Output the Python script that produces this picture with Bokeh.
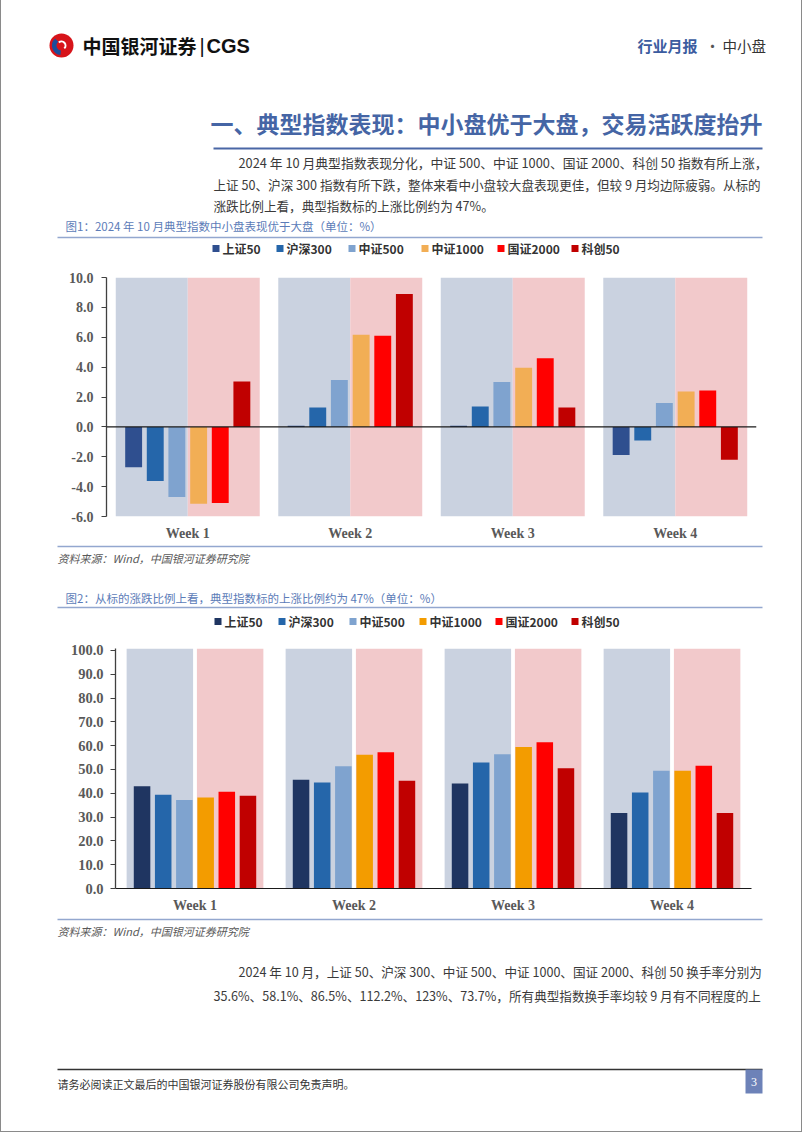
from bokeh.plotting import figure
from bokeh.models import (ColumnDataSource, Range1d, FactorRange, Span, FixedTicker,
                          NumeralTickFormatter)
from bokeh.transform import dodge
from bokeh.layouts import column
from bokeh.core.properties import value
from bokeh.embed import file_html
from bokeh.resources import INLINE

# ---------------- data ----------------
weeks = ["Week 1", "Week 2", "Week 3", "Week 4"]
series = ["上证50", "沪深300", "中证500", "中证1000", "国证2000", "科创50"]

# Fig 1: weekly change (%)
ret_sz50 = [-2.70, 0.08, 0.08, -1.88]
ret_hs300 = [-3.62, 1.30, 1.36, -0.92]
ret_zz500 = [-4.70, 3.13, 3.00, 1.59]
ret_zz1000 = [-5.14, 6.17, 3.96, 2.37]
ret_gz2000 = [-5.10, 6.10, 4.60, 2.44]
ret_kc50 = [3.04, 8.90, 1.30, -2.20]

# Fig 2: share of constituents rising (%)
up_sz50 = [42.9, 45.7, 44.1, 31.7]
up_hs300 = [39.4, 44.5, 52.9, 40.3]
up_zz500 = [37.2, 51.3, 56.4, 49.5]
up_zz1000 = [38.2, 56.2, 59.4, 49.5]
up_gz2000 = [40.6, 57.2, 61.4, 51.6]
up_kc50 = [39.0, 45.3, 50.5, 31.7]

ticks1 = [-6, -4, -2, 0, 2, 4, 6, 8, 10]
ticks2 = [0, 10, 20, 30, 40, 50, 60, 70, 80, 90, 100]

colors1 = ["#2F4F8F", "#2566AA", "#7FA3CF", "#F2AE55", "#FF0000", "#C00000"]
colors2 = ["#1F3561", "#2566AA", "#7FA3CF", "#F39C00", "#FF0000", "#C00000"]

BG_GRAY = "#CAD2E0"
BG_PINK = "#F2C9CB"
CJK = "Noto Sans CJK SC"
SERIF = "Liberation Serif"
W = 800
OX = 1  # page x of the figures' left edge


# ---------------- helpers ----------------
def text_fig(h):
    p = figure(width=W, height=h, x_range=Range1d(0, W), y_range=Range1d(h, 0),
               x_axis_type=None, y_axis_type=None, output_backend="svg",
               toolbar_location=None, min_border=0)
    p.frame_align = False
    p.grid.visible = False
    p.outline_line_color = None
    return p


def txt(p, top, x, y, s, size, color, font=CJK, style="normal", align="left"):
    p.text(x=[x - OX], y=[y - top], text=[s], text_font=value(font),
           text_font_size=f"{size}px", text_color=color, text_font_style=style,
           text_align=align, text_baseline="middle")


def hline(p, top, x0, x1, y, color, w):
    p.segment(x0=[x0 - OX], y0=[y - top], x1=[x1 - OX], y1=[y - top],
              line_color=color, line_width=w)


def legend_row(p, top, y, xs, colors):
    # xs: page x of each legend square (layout only); labels/colours from the data lists
    p.rect(x=[x - OX + 3.5 for x in xs], y=[y - top] * len(xs), width=7, height=7,
           fill_color=colors, line_color=None)
    p.text(x=[x - OX + 10 for x in xs], y=[y - top] * len(xs), text=series,
           text_font=value(CJK), text_font_size="12px", text_font_style="bold",
           text_color="#333333", text_baseline="middle")


def make_chart(vals, colors, y0, y1, ticks, height, bl, br, bt, bb, half, gap,
               zero_span, lab_size, standoff):
    p = figure(width=W, height=height, x_range=FactorRange(*weeks),
               y_range=Range1d(y0, y1), output_backend="svg", toolbar_location=None,
               min_border_left=bl, min_border_right=br, min_border_top=bt,
               min_border_bottom=bb)
    p.frame_align = False
    p.outline_line_color = None
    p.grid.visible = False
    bg = ColumnDataSource(dict(week=weeks))
    p.vbar(x=dodge("week", -(half + gap) / 2, range=p.x_range), width=half - gap,
           top=y1, bottom=y0, source=bg, fill_color=BG_GRAY, line_color=None)
    p.vbar(x=dodge("week", (half + gap) / 2, range=p.x_range), width=half - gap,
           top=y1, bottom=y0, source=bg, fill_color=BG_PINK, line_color=None)
    offsets = [-0.333, -0.2, -0.067, 0.067, 0.2, 0.333]
    for name, v, c, off in zip(series, vals, colors, offsets):
        src = ColumnDataSource(dict(week=weeks, val=v))
        p.vbar(x=dodge("week", off, range=p.x_range), top="val", bottom=0, width=0.104,
               source=src, fill_color=c, line_color=None)
    if zero_span:
        p.add_layout(Span(location=0, dimension="width", line_color="#1a1a1a", line_width=1.2))
    ya = p.yaxis[0]
    ya.ticker = FixedTicker(ticks=ticks)
    ya.formatter = NumeralTickFormatter(format="0.0")
    ya.minor_tick_line_color = None
    ya.minor_tick_out = 0
    ya.major_tick_out = 5
    ya.major_tick_in = 0
    ya.axis_line_color = "#404040"
    ya.axis_line_width = 1.3
    ya.major_tick_line_color = "#404040"
    ya.major_label_text_font = SERIF
    ya.major_label_text_font_style = "bold"
    ya.major_label_text_font_size = f"{lab_size}px"
    ya.major_label_text_color = "#595959"
    ya.major_label_standoff = standoff
    xa = p.xaxis[0]
    xa.major_tick_line_color = None
    xa.minor_tick_line_color = None
    xa.major_tick_out = 0
    xa.major_tick_in = 0
    xa.minor_tick_out = 0
    if zero_span:
        xa.axis_line_color = None
    else:
        xa.axis_line_color = "#1a1a1a"
        xa.axis_line_width = 1.2
    xa.major_label_text_font = SERIF
    xa.major_label_text_font_style = "bold"
    xa.major_label_text_font_size = "14px"
    xa.major_label_text_color = "#595959"
    xa.major_label_standoff = 9
    return p


BLUE_T = "#4565A5"
CAP = "#5C7CB8"
RULE = "#93A7CF"
BODY = "#3a3a3a"

# ---------------- segment A: header (page y 0..262) ----------------
TA = 0
pa = text_fig(262)
# logo
pa.circle(x=[61 - OX], y=[45 - TA], radius=12, fill_color="#D7141A", line_color=None)
pa.annular_wedge(x=[61 - OX], y=[45 - TA], inner_radius=5, outer_radius=9.5,
                 start_angle=2.3, end_angle=4.6, fill_color="#1B4E9B", line_color=None)
pa.annular_wedge(x=[61 - OX], y=[45 - TA], inner_radius=3, outer_radius=5,
                 start_angle=-0.8, end_angle=2.3, fill_color="white", line_color=None)
txt(pa, TA, 82, 45, "中国银河证券", 19, "#111111", style="bold")
txt(pa, TA, 199, 45, "|", 20, "#111111", font="Liberation Sans")
txt(pa, TA, 206, 45, "CGS", 20, "#111111", font="Liberation Sans", style="bold")
txt(pa, TA, 637, 45, "行业月报", 15, "#3B5CA0", style="bold")
txt(pa, TA, 712, 45, "·", 15, "#555555", align="center")
txt(pa, TA, 722, 45, "中小盘", 14.5, "#333333")
txt(pa, TA, 762, 122, "一、典型指数表现：中小盘优于大盘，交易活跃度抬升", 23, BLUE_T,
    style="bold", align="right")
hline(pa, TA, 213, 762, 148, "#4A67A6", 2)
txt(pa, TA, 238, 162, "2024 年 10 月典型指数表现分化，中证 500、中证 1000、国证 2000、科创 50 指数有所上涨，", 12.8, BODY)
txt(pa, TA, 213, 184, "上证 50、沪深 300 指数有所下跌，整体来看中小盘较大盘表现更佳，但较 9 月均边际疲弱。从标的", 12.6, BODY)
txt(pa, TA, 213, 205, "涨跌比例上看，典型指数标的上涨比例约为 47%。", 12.6, BODY)
txt(pa, TA, 65, 225, "图1：2024 年 10 月典型指数中小盘表现优于大盘（单位：%）", 11.5, CAP)
hline(pa, TA, 57, 762, 237, RULE, 1.5)
legend_row(pa, TA, 248, [212, 276, 348, 421, 497, 571], colors1)

# ---------------- segment B: chart 1 (page y 262..544) ----------------
pb = make_chart([ret_sz50, ret_hs300, ret_zz500, ret_zz1000, ret_gz2000, ret_kc50],
                colors1, -6, 10, ticks1, 282, 105, 45, 15, 28, 0.443, 0.0, True, 14, 8)

# ---------------- segment C: page y 544..632 ----------------
TC = 544
pc = text_fig(88)
hline(pc, TC, 57, 762, 546, RULE, 1.5)
txt(pc, TC, 57, 557, "资料来源：Wind，中国银河证券研究院", 11, "#595959", style="italic")
txt(pc, TC, 65, 597, "图2：从标的涨跌比例上看，典型指数标的上涨比例约为 47%（单位：%）", 11.5, CAP)
hline(pc, TC, 57, 762, 607, RULE, 1.5)
legend_row(pc, TC, 621, [214, 278, 349, 419, 495, 571], colors2)

# ---------------- segment D: chart 2 (page y 632..916) ----------------
pd_ = make_chart([up_sz50, up_hs300, up_zz500, up_zz1000, up_gz2000, up_kc50],
                 colors2, 0, 100.8, ticks2, 284, 114, 50, 16, 28, 0.43, 0.012, False, 14.5, 7)

# ---------------- segment E: page y 916..1131 ----------------
TE = 916
pe = text_fig(215)
hline(pe, TE, 57, 762, 919, RULE, 1.5)
txt(pe, TE, 57, 930, "资料来源：Wind，中国银河证券研究院", 11, "#595959", style="italic")
txt(pe, TE, 238, 971, "2024 年 10 月，上证 50、沪深 300、中证 500、中证 1000、国证 2000、科创 50 换手率分别为", 12.6, BODY)
txt(pe, TE, 213, 995, "35.6%、58.1%、86.5%、112.2%、123%、73.7%，所有典型指数换手率均较 9 月有不同程度的上", 12.6, BODY)
hline(pe, TE, 57, 762, 1069, "#333333", 1.5)
txt(pe, TE, 57, 1083, "请务必阅读正文最后的中国银河证券股份有限公司免责声明。", 11, "#333333")
pe.quad(left=[745 - OX], right=[762 - OX], top=[1069 - TE], bottom=[1093 - TE],
        fill_color="#6D82B8", line_color=None)
txt(pe, TE, 753.5, 1081, "3", 12, "white", font=SERIF, align="center")

page = column(pa, pb, pc, pd_, pe, spacing=0,
              styles={"border-left": "1px solid #8a8a8a", "border-right": "1px solid #8a8a8a",
                      "border-bottom": "1px solid #8a8a8a"})
open("out.html", "w").write(file_html(page, INLINE))
